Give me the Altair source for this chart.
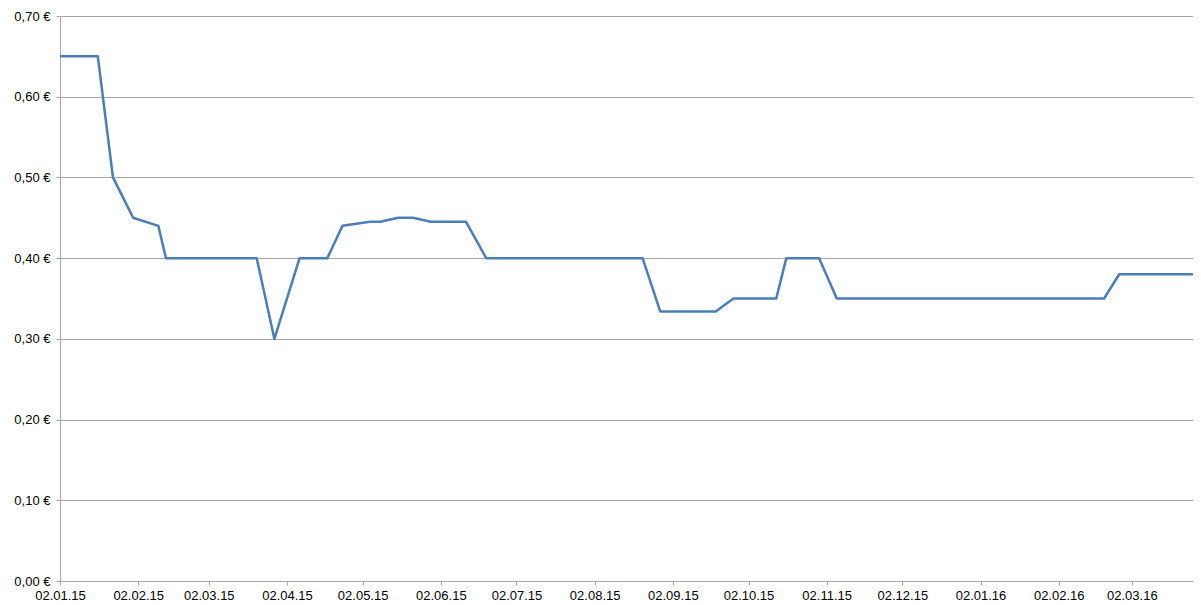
import altair as alt
import pandas as pd

# Vertex dates and prices
dates = [
    "2015-01-02", "2015-01-17", "2015-01-23", "2015-01-31", "2015-02-10",
    "2015-02-13", "2015-03-21", "2015-03-28", "2015-04-07", "2015-04-18",
    "2015-04-24", "2015-05-05", "2015-05-09", "2015-05-16", "2015-05-22",
    "2015-05-29", "2015-06-12", "2015-06-20", "2015-08-21", "2015-08-28",
    "2015-09-19", "2015-09-26", "2015-10-13", "2015-10-17", "2015-10-30",
    "2015-11-06", "2016-02-20", "2016-02-26", "2016-03-29",
]
prices = [
    0.65, 0.65, 0.50, 0.45, 0.44,
    0.40, 0.40, 0.30, 0.40, 0.40,
    0.44, 0.445, 0.445, 0.45, 0.45,
    0.445, 0.445, 0.40, 0.40, 0.334,
    0.334, 0.35, 0.35, 0.40, 0.40,
    0.35, 0.35, 0.38, 0.38,
]
tick_dates = [
    (2015, 1), (2015, 2), (2015, 3), (2015, 4), (2015, 5), (2015, 6),
    (2015, 7), (2015, 8), (2015, 9), (2015, 10), (2015, 11), (2015, 12),
    (2016, 1), (2016, 2), (2016, 3),
]
y_ticks = [0.0, 0.1, 0.2, 0.3, 0.4, 0.5, 0.6, 0.7]

df = pd.DataFrame({"date": dates, "price": prices})

x_values = [alt.DateTime(year=y, month=m, date=2, utc=True) for y, m in tick_dates]

chart = (
    alt.Chart(df)
    .mark_line(color="#4a7ebb", strokeWidth=2.5, strokeJoin="round", clip=True)
    .encode(
        x=alt.X(
            "date:T",
            scale=alt.Scale(
                type="utc",
                domain=[
                    alt.DateTime(year=2015, month=1, date=2, utc=True),
                    alt.DateTime(year=2016, month=3, date=26, hours=6, utc=True),
                ],
                nice=False,
            ),
            axis=alt.Axis(
                title=None,
                values=x_values,
                labelExpr="utcFormat(datum.value, '%d.%m.%y')",
                grid=False,
                domainColor="#a6a6a6",
                tickColor="#a6a6a6",
                tickSize=4,
                labelPadding=4,
                labelFont="Liberation Sans",
                labelFontSize=13,
                labelColor="#000000",
                labelFlush=False,
                labelOverlap=False,
            ),
        ),
        y=alt.Y(
            "price:Q",
            scale=alt.Scale(domain=[0, 0.7], nice=False, zero=True),
            axis=alt.Axis(
                title=None,
                values=y_ticks,
                labelExpr="replace(format(datum.value, '.2f'), '.', ',') + ' €'",
                grid=True,
                gridColor="#a6a6a6",
                gridWidth=1,
                domainColor="#a6a6a6",
                tickColor="#a6a6a6",
                tickSize=4,
                labelPadding=6,
                labelFont="Liberation Sans",
                labelFontSize=13,
                labelColor="#000000",
            ),
        ),
    )
    .properties(
        width=1133,
        height=565,
        autosize=alt.AutoSizeParams(type="none"),
        padding={"left": 52, "top": 8, "right": 0, "bottom": 23},
        background="white",
    )
    .configure_view(stroke=None)
)

chart.save("out.html", embed_options={"renderer": "svg", "actions": False})
